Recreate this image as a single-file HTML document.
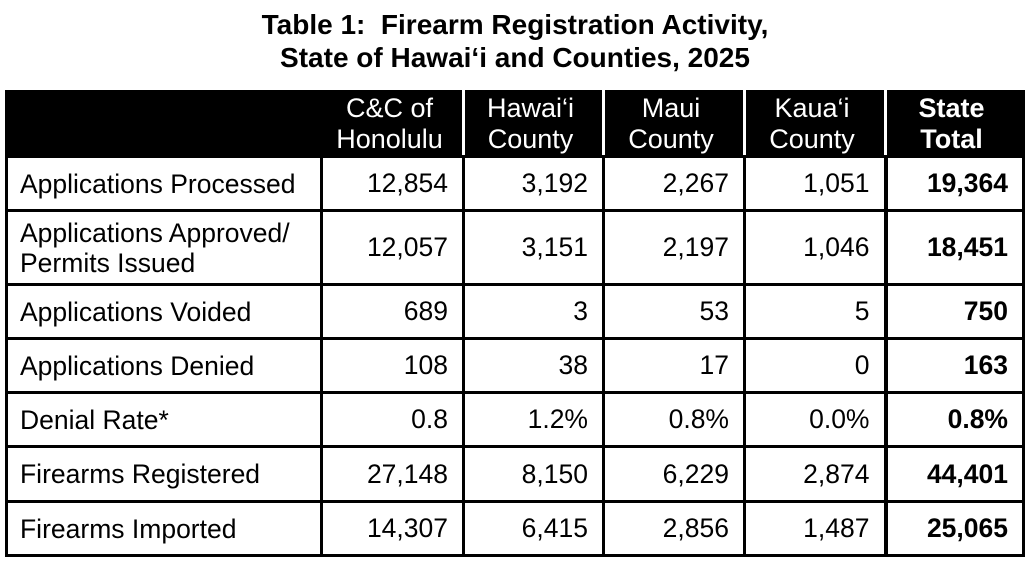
<!DOCTYPE html>
<html><head><style>
body{margin:0;width:1030px;height:563px;background:#fff;font-family:"Liberation Sans",Arial,sans-serif;position:relative;overflow:hidden}
.t{position:absolute;left:0;width:1030px;text-align:center;font-weight:bold;font-size:28px;color:#000}
table{position:absolute;left:5px;top:90px;border-collapse:collapse;width:1020px}
td{border:3px solid #000;font-size:26.5px;padding:0 14px 0 8px;text-align:right;color:#000}
td.l{text-align:left;padding-left:12px;line-height:30px;vertical-align:middle}
tr.h td{background:#000;color:#fff;text-align:center;line-height:31px;font-size:27px;border-top-color:#000;border-bottom-color:#000;border-left-color:#000;border-right:3px solid #fff;height:60px}
tr.h td:first-child{border-right-color:#000}
tr.h td:last-child{border-right:3px solid #000}
td.b{font-weight:bold;border-left:4px solid #000}
tr.h td.b{border-left:3px solid #fff}
</style></head><body>
<div class="t" style="top:9px">Table 1:&nbsp; Firearm Registration Activity,</div>
<div class="t" style="top:42px">State of Hawai‘i and Counties, 2025</div>
<table>
<colgroup><col style="width:315px"><col style="width:142px"><col style="width:140px"><col style="width:141px"><col style="width:141px"><col></colgroup>
<tr class="h"><td></td><td>C&amp;C of<br>Honolulu</td><td>Hawai‘i<br>County</td><td>Maui<br>County</td><td>Kaua‘i<br>County</td><td class="b">State<br>Total</td></tr>
<tr style="height:54px"><td class="l">Applications Processed</td><td>12,854</td><td>3,192</td><td>2,267</td><td>1,051</td><td class="b">19,364</td></tr>
<tr style="height:74px"><td class="l">Applications Approved/<br>Permits Issued</td><td>12,057</td><td>3,151</td><td>2,197</td><td>1,046</td><td class="b">18,451</td></tr>
<tr style="height:54px"><td class="l">Applications Voided</td><td>689</td><td>3</td><td>53</td><td>5</td><td class="b">750</td></tr>
<tr style="height:54px"><td class="l">Applications Denied</td><td>108</td><td>38</td><td>17</td><td>0</td><td class="b">163</td></tr>
<tr style="height:54px"><td class="l">Denial Rate*</td><td>0.8</td><td>1.2%</td><td>0.8%</td><td>0.0%</td><td class="b">0.8%</td></tr>
<tr style="height:55px"><td class="l">Firearms Registered</td><td>27,148</td><td>8,150</td><td>6,229</td><td>2,874</td><td class="b">44,401</td></tr>
<tr style="height:54px"><td class="l">Firearms Imported</td><td>14,307</td><td>6,415</td><td>2,856</td><td>1,487</td><td class="b">25,065</td></tr>
</table>
</body></html>
